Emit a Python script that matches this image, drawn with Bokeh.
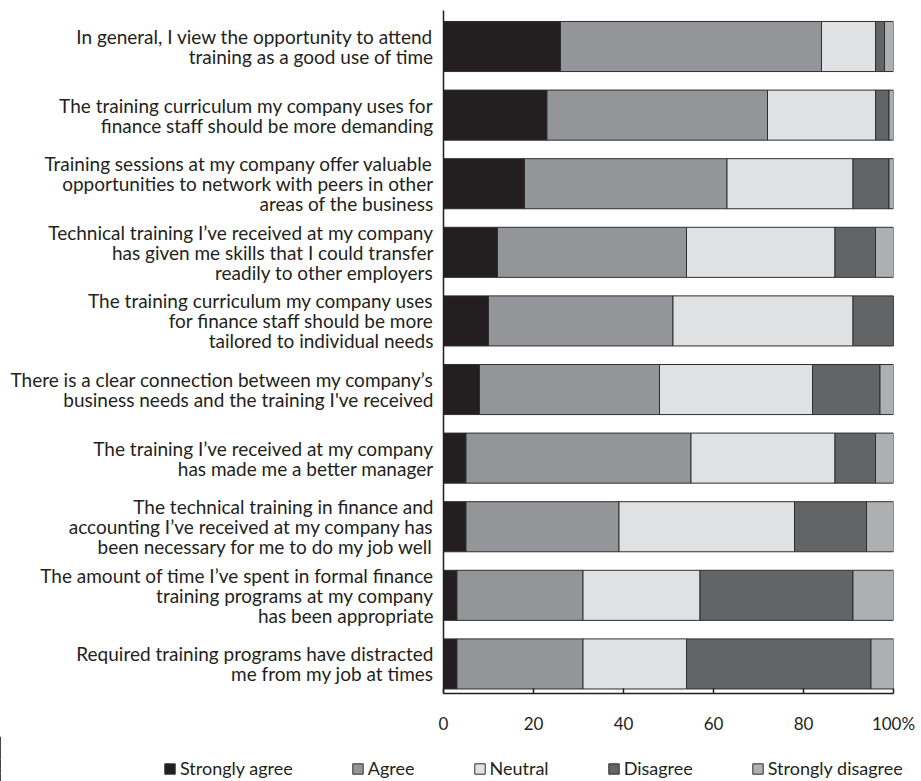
from bokeh.plotting import figure
from bokeh.models import (ColumnDataSource, Range1d, FixedTicker, Legend, LegendItem)
from bokeh.embed import file_html
from bokeh.resources import INLINE

# Survey statements, top to bottom
statements = [
    "In general, I view the opportunity to attend\ntraining as a good use of time",
    "The training curriculum my company uses for\nfinance staff should be more demanding",
    "Training sessions at my company offer valuable\nopportunities to network with peers in other\nareas of the business",
    "Technical training I\u2019ve received at my company\nhas given me skills that I could transfer\nreadily to other employers",
    "The training curriculum my company uses\nfor finance staff should be more\ntailored to individual needs",
    "There is a clear connection between my company\u2019s\nbusiness needs and the training I've received",
    "The training I\u2019ve received at my company\nhas made me a better manager",
    "The technical training in finance and\naccounting I\u2019ve received at my company has\nbeen necessary for me to do my job well",
    "The amount of time I\u2019ve spent in formal finance\ntraining programs at my company\nhas been appropriate",
    "Required training programs have distracted\nme from my job at times",
]

# Share of respondents (%) per answer
strongly_agree = [26, 23, 18, 12, 10, 8, 5, 5, 3, 3]
agree = [58, 49, 45, 42, 41, 40, 50, 34, 28, 28]
neutral = [12, 24, 28, 33, 40, 34, 32, 39, 26, 23]
disagree = [2, 3, 8, 9, 9, 15, 9, 16, 34, 41]
strongly_disagree = [2, 1, 1, 4, 0, 3, 4, 6, 9, 5]

answers = ["Strongly agree", "Agree", "Neutral", "Disagree", "Strongly disagree"]
keys = ["sa", "a", "n", "d", "sd"]
colors = ["#231f20", "#939598", "#e0e1e2", "#636466", "#aeafb1"]

x_ticks = [0, 20, 40, 60, 80, 100]

pos = list(range(len(statements)))
source = ColumnDataSource(dict(
    pos=pos, sa=strongly_agree, a=agree, n=neutral, d=disagree, sd=strongly_disagree,
))

FONT = "Lato"
TEXT = "#231f20"
BAR_STYLE = dict(height=0.73, color=colors, line_color="#2e2e2e", line_width=1)

# ---- main chart -------------------------------------------------------------
p = figure(
    frame_width=450, frame_height=683,
    min_border_left=443, min_border_right=28,
    min_border_top=10, min_border_bottom=42,
    x_range=Range1d(0, 100), y_range=Range1d(9.431, -0.525),
    output_backend="svg", toolbar_location=None, tools="",
)

p.hbar_stack(keys, y="pos", source=source, **BAR_STYLE)

# category axis
p.yaxis.ticker = FixedTicker(ticks=pos)
p.yaxis.major_label_overrides = {i: s for i, s in zip(pos, statements)}
p.yaxis.major_tick_line_color = None
p.yaxis.minor_tick_line_color = None
p.yaxis.axis_line_color = TEXT
p.yaxis.axis_line_width = 1.5
p.yaxis.major_label_text_font = FONT
p.yaxis.major_label_text_font_size = "19px"
p.yaxis.major_label_text_color = TEXT
p.yaxis.major_label_text_line_height = 0.87
p.yaxis.major_label_standoff = 4

# percentage axis
p.xaxis.ticker = FixedTicker(ticks=x_ticks)
p.xaxis.major_label_overrides = {100: "100%"}
p.xaxis.axis_line_color = TEXT
p.xaxis.axis_line_width = 1.5
p.xaxis.major_tick_line_color = TEXT
p.xaxis.major_tick_line_width = 1.5
p.xaxis.major_tick_in = 5
p.xaxis.major_tick_out = 0
p.xaxis.minor_tick_line_color = None
p.xaxis.major_label_text_font = FONT
p.xaxis.major_label_text_font_size = "17px"
p.xaxis.major_label_text_color = TEXT
p.xaxis.major_label_standoff = 19

p.xgrid.grid_line_color = None
p.ygrid.grid_line_color = None
p.outline_line_color = None

# ---- legend strip -----------------------------------------------------------
# Same stacked bars, kept outside the visible x range, so the strip only
# shows the legend swatches for each answer.
leg = figure(
    width=921, height=46, min_border=0,
    x_range=Range1d(200, 300), y_range=Range1d(9.5, -0.5),
    x_axis_type=None, y_axis_type=None,
    output_backend="svg", toolbar_location=None, tools="",
)
leg.outline_line_color = None
leg.xgrid.grid_line_color = None
leg.ygrid.grid_line_color = None
swatches = leg.hbar_stack(keys, y="pos", source=source, **BAR_STYLE)

legend = Legend(
    items=[LegendItem(label=lab, renderers=[r]) for lab, r in zip(answers, swatches)],
    orientation="horizontal", location=(163, 3),
    glyph_width=13, glyph_height=13, label_standoff=4, spacing=58,
    padding=0, margin=0, border_line_color=None, background_fill_alpha=0,
    label_text_font=FONT, label_text_font_size="18px", label_text_color=TEXT,
)
leg.add_layout(legend, "center")

open("out.html", "w").write(file_html([p, leg], INLINE))
